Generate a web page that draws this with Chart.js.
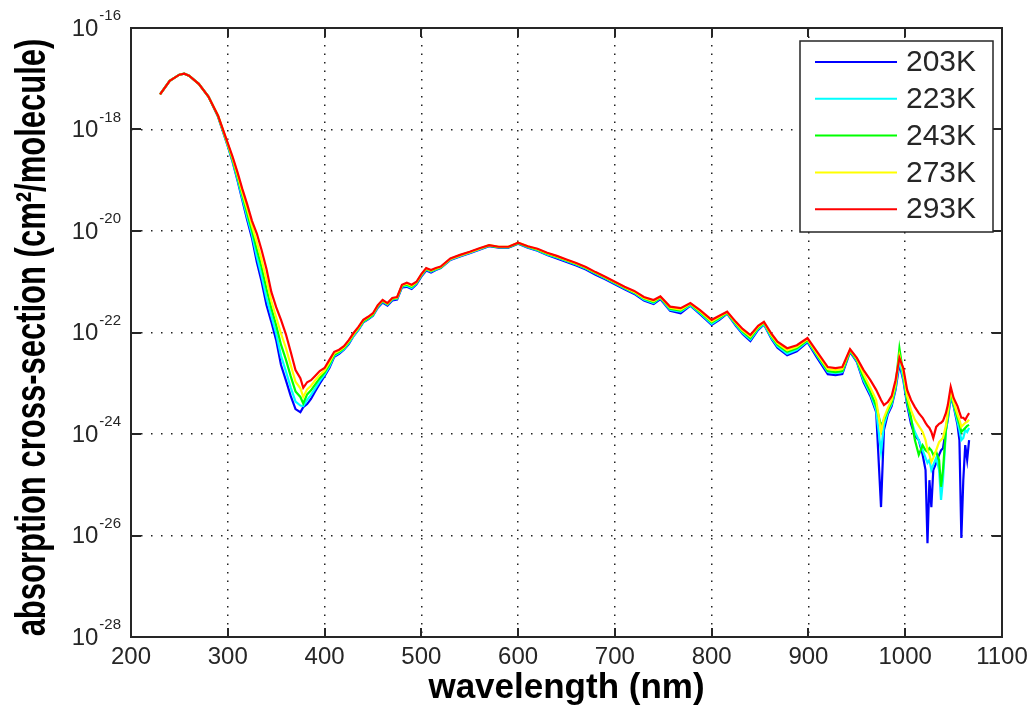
<!DOCTYPE html>
<html>
<head>
<meta charset="utf-8">
<script src="https://cdn.jsdelivr.net/npm/chart.js@4.4.0/dist/chart.umd.min.js"></script>
<style>
    html, body { margin: 0; padding: 0; background: #fff; }
    #chart-container { width: 1031px; height: 713px; }
</style>
</head>
<body>
<div id="chart-container"><canvas id="chart"></canvas></div>
<script>
// wavelength grid (nm), shared by all temperatures
var wavelengths = [
    230, 240, 250, 255, 260, 270, 280, 290, 300, 305,
    310, 315, 320, 325, 330, 335, 340, 345, 350, 355,
    360, 365, 370, 375, 378, 382, 386, 390, 395, 400,
    405, 410, 415, 420, 425, 430, 435, 440, 445, 450,
    455, 460, 465, 470, 475, 480, 485, 490, 495, 500,
    505, 510, 515, 520, 530, 540, 550, 560, 570, 580,
    590, 595, 600, 610, 620, 630, 640, 650, 660, 670,
    680, 690, 700, 710, 720, 730, 740, 747, 757, 768,
    778, 788, 800, 808, 816, 825, 832, 840, 848, 854,
    862, 868, 878, 888, 899, 909, 920, 928, 935, 943,
    950, 957, 964, 970, 975, 978, 982, 986, 990, 994,
    998, 1002, 1006, 1010, 1014, 1018, 1021, 1023, 1025, 1027,
    1029, 1032, 1035, 1037, 1039, 1042, 1044, 1047, 1050, 1054,
    1056, 1058, 1060, 1062, 1064, 1066
];

// log10 of cross-section (cm^2/molecule)
var log10Sigma203 = [
    -17.31, -17.04, -16.92, -16.90, -16.94, -17.10, -17.35, -17.75, -18.33, -18.64,
    -19.00, -19.39, -19.78, -20.14, -20.61, -21.00, -21.46, -21.79, -22.15, -22.64,
    -22.94, -23.25, -23.51, -23.57, -23.47, -23.41, -23.31, -23.17, -23.01, -22.86,
    -22.70, -22.48, -22.42, -22.34, -22.23, -22.07, -21.95, -21.80, -21.74, -21.67,
    -21.51, -21.41, -21.47, -21.37, -21.35, -21.11, -21.10, -21.14, -21.05, -20.90,
    -20.78, -20.82, -20.77, -20.73, -20.57, -20.50, -20.44, -20.37, -20.30, -20.33,
    -20.33, -20.29, -20.25, -20.33, -20.39, -20.47, -20.54, -20.61, -20.68, -20.76,
    -20.86, -20.95, -21.05, -21.15, -21.24, -21.37, -21.44, -21.34, -21.57, -21.62,
    -21.47, -21.64, -21.85, -21.75, -21.63, -21.87, -22.03, -22.17, -21.95, -21.84,
    -22.13, -22.30, -22.45, -22.37, -22.19, -22.50, -22.82, -22.84, -22.82, -22.38,
    -22.58, -22.98, -23.25, -23.57, -25.44, -23.92, -23.61, -23.45, -23.13, -22.62,
    -22.94, -23.43, -23.80, -24.04, -24.12, -24.41, -24.71, -26.15, -24.91, -25.44,
    -24.71, -24.57, -24.41, -24.32, -24.28, -23.92, -23.72, -23.27, -23.45, -23.82,
    -24.12, -26.05, -24.91, -24.22, -24.51, -24.12
];
var log10Sigma223 = [
    -17.31, -17.04, -16.92, -16.90, -16.94, -17.10, -17.35, -17.74, -18.32, -18.62,
    -18.97, -19.35, -19.72, -20.07, -20.50, -20.88, -21.32, -21.67, -22.02, -22.46,
    -22.76, -23.08, -23.36, -23.44, -23.45, -23.33, -23.23, -23.11, -22.96, -22.83,
    -22.67, -22.46, -22.40, -22.33, -22.21, -22.06, -21.94, -21.79, -21.73, -21.66,
    -21.49, -21.39, -21.45, -21.35, -21.33, -21.09, -21.08, -21.12, -21.03, -20.88,
    -20.76, -20.80, -20.76, -20.72, -20.56, -20.49, -20.43, -20.36, -20.29, -20.32,
    -20.32, -20.28, -20.24, -20.32, -20.38, -20.46, -20.52, -20.59, -20.66, -20.74,
    -20.84, -20.93, -21.03, -21.13, -21.22, -21.35, -21.42, -21.32, -21.55, -21.59,
    -21.46, -21.62, -21.83, -21.73, -21.62, -21.85, -22.01, -22.14, -21.93, -21.83,
    -22.11, -22.27, -22.42, -22.34, -22.17, -22.46, -22.78, -22.80, -22.78, -22.36,
    -22.56, -22.94, -23.21, -23.53, -24.35, -23.82, -23.57, -23.41, -23.09, -22.54,
    -22.90, -23.37, -23.72, -23.96, -24.12, -24.32, -24.47, -24.57, -24.51, -24.71,
    -24.61, -24.47, -24.71, -25.30, -24.91, -23.96, -23.68, -23.23, -23.43, -23.76,
    -23.92, -24.12, -24.08, -23.92, -23.96, -23.88
];
var log10Sigma243 = [
    -17.31, -17.04, -16.92, -16.90, -16.94, -17.10, -17.35, -17.74, -18.30, -18.60,
    -18.93, -19.29, -19.64, -19.99, -20.36, -20.72, -21.14, -21.52, -21.86, -22.24,
    -22.53, -22.86, -23.16, -23.27, -23.40, -23.22, -23.14, -23.03, -22.90, -22.79,
    -22.63, -22.44, -22.38, -22.31, -22.19, -22.04, -21.92, -21.78, -21.72, -21.65,
    -21.48, -21.38, -21.44, -21.34, -21.32, -21.08, -21.06, -21.10, -21.02, -20.87,
    -20.75, -20.79, -20.75, -20.72, -20.55, -20.48, -20.42, -20.35, -20.29, -20.32,
    -20.32, -20.28, -20.24, -20.31, -20.37, -20.45, -20.51, -20.58, -20.65, -20.73,
    -20.83, -20.92, -21.02, -21.12, -21.21, -21.33, -21.40, -21.31, -21.53, -21.57,
    -21.44, -21.60, -21.80, -21.71, -21.61, -21.83, -21.98, -22.11, -21.91, -21.81,
    -22.08, -22.24, -22.38, -22.31, -22.15, -22.44, -22.76, -22.78, -22.76, -22.36,
    -22.54, -22.90, -23.17, -23.45, -23.84, -23.72, -23.53, -23.37, -23.05, -22.31,
    -22.82, -23.33, -23.68, -24.12, -24.41, -24.22, -24.32, -24.35, -24.28, -24.32,
    -24.41, -24.35, -24.51, -25.04, -24.71, -23.92, -23.63, -23.17, -23.41, -23.68,
    -23.80, -23.96, -23.92, -23.88, -23.84, -23.82
];
var log10Sigma273 = [
    -17.31, -17.04, -16.92, -16.90, -16.94, -17.10, -17.35, -17.73, -18.29, -18.57,
    -18.89, -19.24, -19.56, -19.90, -20.22, -20.57, -20.96, -21.38, -21.70, -22.02,
    -22.30, -22.64, -22.97, -23.10, -23.27, -23.12, -23.05, -22.95, -22.84, -22.75,
    -22.59, -22.41, -22.36, -22.29, -22.17, -22.03, -21.91, -21.76, -21.70, -21.63,
    -21.47, -21.37, -21.43, -21.33, -21.31, -21.07, -21.04, -21.08, -21.01, -20.86,
    -20.74, -20.78, -20.74, -20.71, -20.55, -20.48, -20.42, -20.35, -20.28, -20.31,
    -20.31, -20.27, -20.23, -20.30, -20.36, -20.44, -20.50, -20.57, -20.64, -20.72,
    -20.82, -20.91, -21.01, -21.11, -21.20, -21.32, -21.38, -21.30, -21.51, -21.55,
    -21.43, -21.58, -21.78, -21.69, -21.60, -21.81, -21.96, -22.08, -21.89, -21.80,
    -22.06, -22.21, -22.35, -22.28, -22.13, -22.42, -22.72, -22.74, -22.72, -22.34,
    -22.52, -22.82, -23.09, -23.33, -23.96, -23.68, -23.49, -23.33, -23.01, -22.46,
    -22.78, -23.25, -23.53, -23.72, -23.84, -23.96, -24.12, -24.32, -24.41, -24.55,
    -24.47, -24.32, -24.16, -24.12, -24.08, -23.84, -23.57, -23.13, -23.37, -23.61,
    -23.72, -23.86, -23.82, -23.78, -23.76, -23.72
];
var log10Sigma293 = [
    -17.31, -17.04, -16.92, -16.90, -16.94, -17.10, -17.35, -17.73, -18.27, -18.54,
    -18.84, -19.17, -19.47, -19.80, -20.05, -20.38, -20.75, -21.20, -21.50, -21.75,
    -22.03, -22.38, -22.74, -22.90, -23.09, -22.98, -22.94, -22.86, -22.76, -22.70,
    -22.54, -22.38, -22.34, -22.27, -22.15, -22.01, -21.89, -21.75, -21.69, -21.62,
    -21.46, -21.36, -21.42, -21.32, -21.30, -21.06, -21.02, -21.06, -21.00, -20.85,
    -20.73, -20.77, -20.73, -20.70, -20.54, -20.47, -20.41, -20.34, -20.28, -20.31,
    -20.31, -20.27, -20.23, -20.30, -20.35, -20.43, -20.49, -20.56, -20.63, -20.71,
    -20.81, -20.90, -21.00, -21.10, -21.18, -21.30, -21.36, -21.29, -21.49, -21.52,
    -21.42, -21.56, -21.75, -21.67, -21.59, -21.79, -21.93, -22.05, -21.87, -21.79,
    -22.03, -22.18, -22.31, -22.25, -22.11, -22.38, -22.68, -22.70, -22.68, -22.33,
    -22.50, -22.74, -22.94, -23.13, -23.33, -23.43, -23.37, -23.25, -22.94, -22.50,
    -22.70, -23.13, -23.33, -23.47, -23.59, -23.68, -23.78, -23.84, -23.88, -23.96,
    -24.08, -23.86, -23.80, -23.78, -23.74, -23.59, -23.43, -23.07, -23.29, -23.45,
    -23.57, -23.68, -23.68, -23.72, -23.65, -23.59
];

var temperatures = ['203K', '223K', '243K', '273K', '293K'];
var seriesColors = ['#0000ff', '#00ffff', '#00ff00', '#ffff00', '#ff0000'];
var xTicks = [200, 300, 400, 500, 600, 700, 800, 900, 1000, 1100];
var yTickExponents = [-28, -26, -24, -22, -20, -18, -16];
var yTitle = 'absorption cross-section (cm\u00b2/molecule)';

var FONT = '"Liberation Sans", Arial, Helvetica, sans-serif';
var INK = '#262626';

document.addEventListener('DOMContentLoaded', function(){
    var logSeries = [log10Sigma203, log10Sigma223, log10Sigma243, log10Sigma273, log10Sigma293];

    var datasets = temperatures.map(function(label, i){
        return {
            label: label,
            data: wavelengths.map(function(w, j){
                return { x: w, y: Math.pow(10, logSeries[i][j]) };
            }),
            borderColor: seriesColors[i],
            backgroundColor: seriesColors[i],
            borderWidth: 2.2,
            pointRadius: 0,
            fill: false,
            tension: 0,
            order: temperatures.length - i   // red drawn last, on top
        };
    });

    new Chart(document.getElementById('chart'), {
        type: 'line',
        data: { datasets: datasets },
        options: {
            responsive: true,
            maintainAspectRatio: false,
            animation: false,
            layout: { padding: { top: 28, right: 29, left: 0, bottom: 0 } },
            plugins: {
                legend: { display: false },
                tooltip: { enabled: false }
            },
            scales: {
                x: {
                    type: 'linear',
                    min: 200,
                    max: 1100,
                    afterBuildTicks: function(scale){
                        scale.ticks = xTicks.map(function(v){ return { value: v }; });
                    },
                    afterFit: function(scale){
                        scale.height = 76;
                        scale.paddingLeft = 0;
                        scale.paddingRight = 0;
                    },
                    ticks: {
                        font: { family: FONT, size: 24 },
                        color: INK,
                        padding: 6,
                        maxRotation: 0,
                        autoSkip: false,
                        callback: function(v){ return String(v); }
                    },
                    grid: { color: '#222', lineWidth: 1.5, drawTicks: false },
                    border: { display: false, dash: [1.5, 7] },
                    title: {
                        display: true,
                        text: 'wavelength (nm)',
                        font: { family: FONT, size: 35, weight: 'bold' },
                        color: '#000',
                        padding: { top: 0, bottom: 4 }
                    }
                },
                y: {
                    type: 'logarithmic',
                    min: 1e-28,
                    max: 1e-16,
                    afterBuildTicks: function(scale){
                        scale.ticks = yTickExponents.map(function(e){ return { value: Math.pow(10, e) }; });
                    },
                    afterFit: function(scale){ scale.width = 131; },
                    ticks: { display: false },
                    grid: { color: '#222', lineWidth: 1.5, drawTicks: false },
                    border: { display: false, dash: [1.5, 8.5] },
                    title: { display: false }
                }
            }
        },
        plugins: [frameAndLabels]
    });
});

// box, inward ticks on all four sides, 10^n labels, y title and the boxed legend
var frameAndLabels = {
    id: 'frameAndLabels',
    afterDraw: function(chart){
        var ctx = chart.ctx;
        var area = chart.chartArea;
        var xs = chart.scales.x;
        var ys = chart.scales.y;

        ctx.save();
        ctx.strokeStyle = INK;
        ctx.lineWidth = 2;
        ctx.beginPath();
        xTicks.forEach(function(v){
            var px = Math.round(xs.getPixelForValue(v));
            ctx.moveTo(px, area.bottom); ctx.lineTo(px, area.bottom - 9);
            ctx.moveTo(px, area.top); ctx.lineTo(px, area.top + 9);
        });
        yTickExponents.forEach(function(e){
            var py = Math.round(ys.getPixelForValue(Math.pow(10, e)));
            ctx.moveTo(area.left, py); ctx.lineTo(area.left + 10, py);
            ctx.moveTo(area.right, py); ctx.lineTo(area.right - 10, py);
        });
        ctx.stroke();
        ctx.strokeRect(area.left, area.top, area.right - area.left, area.bottom - area.top);

        // y tick labels as 10 with a raised exponent
        ctx.fillStyle = INK;
        ctx.textAlign = 'right';
        ctx.textBaseline = 'middle';
        yTickExponents.forEach(function(e){
            var py = ys.getPixelForValue(Math.pow(10, e));
            var sup = String(e);
            ctx.font = '15px ' + FONT;
            var w = ctx.measureText(sup).width;
            ctx.fillText(sup, area.left - 10, py - 12);
            ctx.font = '24px ' + FONT;
            ctx.fillText('10', area.left - 11 - w, py + 1);
        });

        // y title, rotated; glyphs drawn taller than wide like the original
        ctx.save();
        ctx.translate(area.left - 98, (area.top + area.bottom) / 2 + 5);
        ctx.rotate(-Math.PI / 2);
        ctx.scale(1, 1.35);
        ctx.font = 'bold 31px ' + FONT;
        ctx.fillStyle = '#000';
        ctx.textAlign = 'center';
        ctx.textBaseline = 'middle';
        ctx.fillText(yTitle, 0, 0);
        ctx.restore();

        // legend
        var boxW = 193, boxH = 191;
        var bx = area.right - 9 - boxW;
        var by = area.top + 13;
        ctx.fillStyle = '#fff';
        ctx.fillRect(bx, by, boxW, boxH);
        ctx.lineWidth = 1.5;
        ctx.strokeStyle = INK;
        ctx.strokeRect(bx, by, boxW, boxH);
        ctx.font = '30px ' + FONT;
        ctx.textAlign = 'left';
        ctx.textBaseline = 'middle';
        chart.data.datasets.forEach(function(ds, i){
            var ly = by + 21 + i * 36.8;
            ctx.strokeStyle = ds.borderColor;
            ctx.lineWidth = 2;
            ctx.beginPath();
            ctx.moveTo(bx + 15, ly);
            ctx.lineTo(bx + 97, ly);
            ctx.stroke();
            ctx.fillStyle = INK;
            ctx.fillText(ds.label, bx + 106, ly + 1);
        });
        ctx.restore();
    }
};
</script>
</body>
</html>
